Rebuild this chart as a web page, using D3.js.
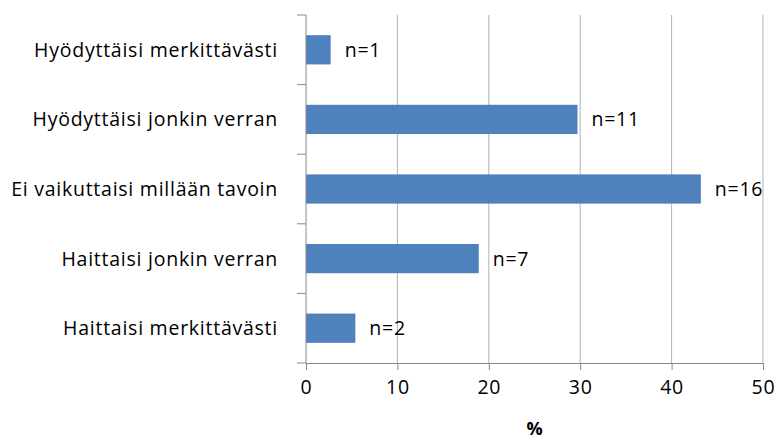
<!DOCTYPE html>
<html>
<head>
<meta charset="utf-8">
<script src="https://cdn.jsdelivr.net/npm/d3@7"></script>
<style>
  body { margin: 0; background: #fff; }
  svg { display: block; font-family: "Open Sans", sans-serif; }
</style>
</head>
<body>
<svg id="chart"></svg>
<script>
// chart data
const categories = [
	'Hyödyttäisi merkittävästi',
	'Hyödyttäisi jonkin verran',
	'Ei vaikuttaisi millään tavoin',
	'Haittaisi jonkin verran',
	'Haittaisi merkittävästi'
]
const percents = [2.7, 29.7, 43.2, 18.9, 5.4]
const counts = ['n=1', 'n=11', 'n=16', 'n=7', 'n=2']
const xTicks = [0, 10, 20, 30, 40, 50]

const width = 777, height = 439
const margin = {top: 15, right: 14, bottom: 76, left: 306}
const fontSize = '19.5px'
const spacing = '0.75px'

const svg = d3.select('#chart')
	.attr('width', width)
	.attr('height', height)

const x = d3.scaleLinear()
	.domain([0, 50])
	.range([margin.left, width - margin.right])

const y = d3.scaleBand()
	.domain(categories)
	.range([margin.top, height - margin.bottom])
	.paddingInner(0.58)
	.paddingOuter(0.29)

// gridlines
svg.append('g')
	.selectAll('line')
	.data(xTicks.slice(1))
	.join('line')
		.attr('x1', d => x(d)).attr('x2', d => x(d))
		.attr('y1', margin.top).attr('y2', height - margin.bottom)
		.attr('stroke', '#b3b3b3')
		.attr('stroke-width', 1)

// bars
svg.append('g')
	.attr('fill', '#4f81bd')
	.selectAll('rect')
	.data(percents)
	.join('rect')
		.attr('x', x(0))
		.attr('y', (d, i) => y(categories[i]))
		.attr('width', d => x(d) - x(0))
		.attr('height', y.bandwidth())

// bar labels
svg.append('g')
	.selectAll('text')
	.data(percents)
	.join('text')
		.attr('x', d => x(d) + 14)
		.attr('y', (d, i) => y(categories[i]) + y.bandwidth() / 2)
		.attr('dy', '0.36em')
		.style('font-size', fontSize)
		.style('letter-spacing', spacing)
		.text((d, i) => counts[i])

// x axis
const xAxis = svg.append('g')
	.attr('transform', 'translate(0,' + (height - margin.bottom) + ')')
	.call(d3.axisBottom(x).tickValues(xTicks).tickSize(7).tickSizeOuter(0).tickPadding(10))
xAxis.select('.domain').attr('stroke', '#888')
xAxis.selectAll('.tick line').attr('stroke', '#888')
xAxis.selectAll('text')
	.style('font-size', fontSize)
	.style('letter-spacing', spacing)
	.attr('fill', '#000')
	.style('font-family', '"Open Sans", sans-serif')

// y axis (ticks between categories)
const yTicks = d3.range(categories.length + 1)
const step = y.step()
const y0 = margin.top
svg.append('line')
	.attr('x1', x(0)).attr('x2', x(0))
	.attr('y1', y0).attr('y2', height - margin.bottom)
	.attr('stroke', '#888')
svg.append('g')
	.selectAll('line')
	.data(yTicks)
	.join('line')
		.attr('x1', x(0) - 9).attr('x2', x(0))
		.attr('y1', d => y0 + d * step)
		.attr('y2', d => y0 + d * step)
		.attr('stroke', '#888')

svg.append('g')
	.selectAll('text')
	.data(categories)
	.join('text')
		.attr('x', x(0) - 28)
		.attr('y', d => y(d) + y.bandwidth() / 2)
		.attr('dy', '0.36em')
		.attr('text-anchor', 'end')
		.style('font-size', fontSize)
		.style('letter-spacing', spacing)
		.text(d => d)

// axis title
svg.append('text')
	.attr('x', (x(0) + x(50)) / 2)
	.attr('y', 435)
	.attr('text-anchor', 'middle')
	.style('font-size', '18px')
	.style('font-weight', 'bold')
	.text('%')
</script>
</body>
</html>
